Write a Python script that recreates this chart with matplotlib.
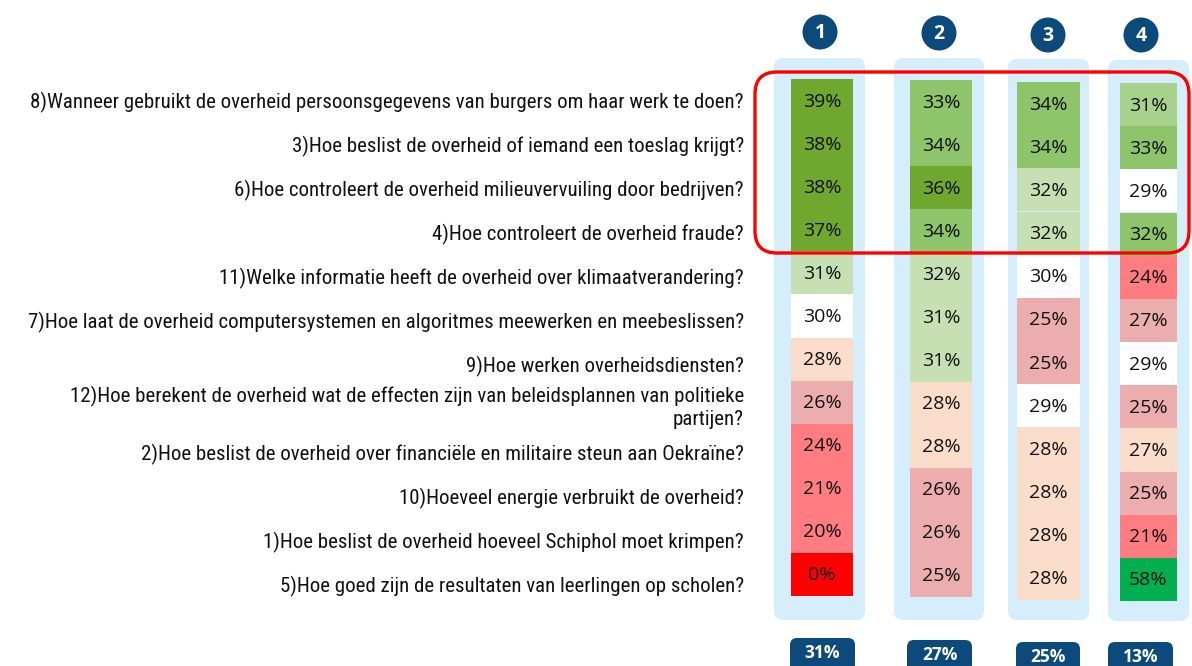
import matplotlib.pyplot as plt
from matplotlib.patches import FancyBboxPatch, Circle
from matplotlib import font_manager

# questions, top to bottom
questions = [
    "8)Wanneer gebruikt de overheid persoonsgegevens van burgers om haar werk te doen?",
    "3)Hoe beslist de overheid of iemand een toeslag krijgt?",
    "6)Hoe controleert de overheid milieuvervuiling door bedrijven?",
    "4)Hoe controleert de overheid fraude?",
    "11)Welke informatie heeft de overheid over klimaatverandering?",
    "7)Hoe laat de overheid computersystemen en algoritmes meewerken en meebeslissen?",
    "9)Hoe werken overheidsdiensten?",
    "12)Hoe berekent de overheid wat de effecten zijn van beleidsplannen van politieke\npartijen?",
    "2)Hoe beslist de overheid over financiële en militaire steun aan Oekraïne?",
    "10)Hoeveel energie verbruikt de overheid?",
    "1)Hoe beslist de overheid hoeveel Schiphol moet krimpen?",
    "5)Hoe goed zijn de resultaten van leerlingen op scholen?",
]

group_names = ["1", "2", "3", "4"]
group_totals = [31, 27, 25, 13]

g1 = [39, 38, 38, 37, 31, 30, 28, 26, 24, 21, 20, 0]
g2 = [33, 34, 36, 34, 32, 31, 31, 28, 28, 26, 26, 25]
g3 = [34, 34, 32, 32, 30, 25, 25, 29, 28, 28, 28, 28]
g4 = [31, 33, 29, 32, 24, 27, 29, 25, 27, 25, 21, 58]

# colour classes per cell (conditional formatting of the source)
g1_cls = ["dg", "dg", "dg", "dg", "vlg", "w", "pe", "pk", "sa", "sa", "sa", "rd"]
g2_cls = ["mg", "mg", "dg", "mg", "vlg", "vlg", "vlg", "pe", "pe", "pk", "pk", "pk"]
g3_cls = ["mg", "mg", "vlg", "vlg", "w", "pk", "pk", "w", "pe", "pe", "pe", "pe"]
g4_cls = ["lg", "mg", "w", "mg", "sa", "pk", "w", "pk", "pe", "pk", "sa", "gr"]

palette = {
    "dg": "#70A82F", "mg": "#8EC46A", "lg": "#A9D18E", "vlg": "#C6E0B4",
    "w": "#FFFFFF", "pe": "#FADCCB", "pk": "#EBADAD", "sa": "#FF7C80",
    "rd": "#FF0000", "gr": "#00B050",
}

values = [g1, g2, g3, g4]
classes = [g1_cls, g2_cls, g3_cls, g4_cls]

# layout (pixels)
cell_x = [(791, 853), (910, 972), (1017, 1080), (1120, 1177)]
cell_y = [(79, 596), (80, 597), (82, 600), (83, 601)]
bg_x = [(774, 865), (894, 984), (1008, 1089), (1108, 1189)]
bg_y = [(58, 620), (58, 620), (59, 620), (60, 621)]
head_c = [(820, 32), (939, 33), (1048, 35), (1141, 35)]
foot_x = [(790, 855), (907, 972), (1016, 1080), (1108, 1173)]
foot_y = [638, 640, 642, 642]

navy = "#0B4A7A"
light_blue = "#D6EDFC"

names = {f.name for f in font_manager.fontManager.ttflist}
label_font = next((f for f in ["Liberation Sans Narrow", "DejaVu Sans Condensed",
                               "Roboto Condensed", "Liberation Sans"] if f in names),
                  "DejaVu Sans")
num_font = "Open Sans" if "Open Sans" in names else "DejaVu Sans"

fig = plt.figure(figsize=(11.92, 6.66), dpi=100)
ax = fig.add_axes([0, 0, 1, 1])
ax.set_xlim(0, 1192)
ax.set_ylim(666, 0)
ax.axis("off")

for k in range(4):
    x0, x1 = bg_x[k]
    y0, y1 = bg_y[k]
    ax.add_patch(FancyBboxPatch((x0, y0), x1 - x0, y1 - y0,
                                boxstyle="round,pad=0,rounding_size=9",
                                fc=light_blue, ec="none", zorder=1))

    top, bot = cell_y[k]
    h = (bot - top) / len(values[k])
    cx = (cell_x[k][0] + cell_x[k][1]) / 2
    w = cell_x[k][1] - cell_x[k][0]
    cols = [palette[c] for c in classes[k]]
    bottoms = [top + i * h for i in range(len(values[k]))]
    ax.bar([cx] * len(values[k]), [h] * len(values[k]), width=w, bottom=bottoms,
           color=cols, edgecolor="none", zorder=2)
    for i, v in enumerate(values[k]):
        ax.text(cx, bottoms[i] + h / 2 + 1, f"{v}%", ha="center", va="center",
                fontsize=14, family=num_font, color="#111111", zorder=3)

    hx, hy = head_c[k]
    ax.add_patch(Circle((hx, hy), 17.5, fc=navy, ec="none", zorder=2))
    ax.text(hx, hy + 1, group_names[k], ha="center", va="center", fontsize=14,
            fontweight="bold", family=num_font, color="white", zorder=3)

    fx0, fx1 = foot_x[k]
    ax.add_patch(FancyBboxPatch((fx0, foot_y[k]), fx1 - fx0, 36,
                                boxstyle="round,pad=0,rounding_size=7",
                                fc=navy, ec="none", zorder=2))
    ax.text((fx0 + fx1) / 2, foot_y[k] + 15, f"{group_totals[k]}%", ha="center",
            va="center", fontsize=12.5, fontweight="bold", family=num_font,
            color="white", zorder=3)

# question labels; size chosen so the longest one spans like the source
renderer = fig.canvas.get_renderer()
probe = ax.text(0, 0, questions[0], fontsize=14, family=label_font)
width_px = probe.get_window_extent(renderer).width
probe.remove()
label_size = 14 * 718 / width_px

for i, q in enumerate(questions):
    y = 102 + 44 * i
    if "\n" in q:
        y = 407
    ax.text(744, y, q, ha="right", va="center", fontsize=label_size,
            family=label_font, color="#111111", linespacing=1.2,
            multialignment="right")

# red highlight around the top four questions
ax.add_patch(FancyBboxPatch((755, 72), 434, 181,
                            boxstyle="round,pad=0,rounding_size=22",
                            fc="none", ec="#FF0000", lw=2.4, zorder=4))

fig.savefig("out.png", dpi=100)
